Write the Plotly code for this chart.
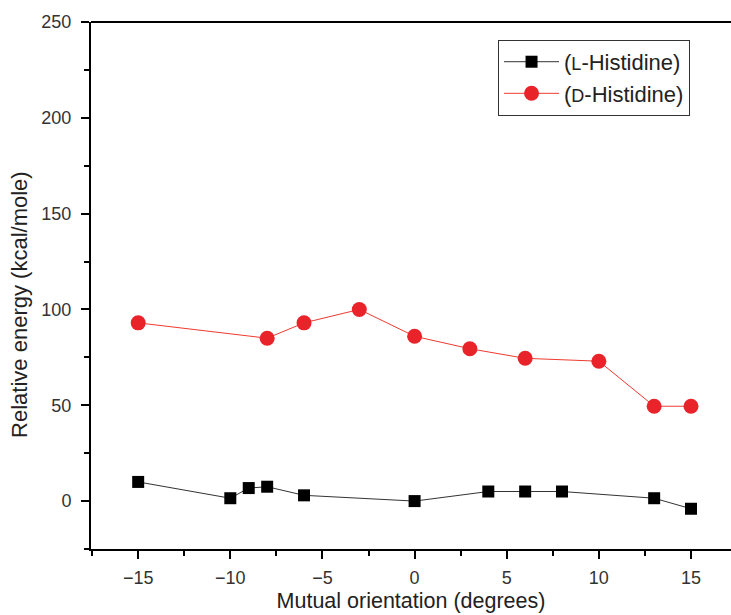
import plotly.graph_objects as go

l_x = [-15, -10, -9, -8, -6, 0, 4, 6, 8, 13, 15]
l_y = [10, 1.5, 6.8, 7.5, 3, 0, 5, 5, 5, 1.5, -4]
d_x = [-15, -8, -6, -3, 0, 3, 6, 10, 13, 15]
d_y = [93, 85, 93, 100, 86, 79.5, 74.5, 73, 49.5, 49.5]

x_ticks = [-15, -10, -5, 0, 5, 10, 15]
y_ticks = [0, 50, 100, 150, 200, 250]

FONT = "Liberation Sans, Arial, sans-serif"

fig = go.Figure()
fig.add_trace(go.Scatter(
    x=l_x, y=l_y, mode="lines+markers",
    name="(<span style='font-size:18px'>L</span>-Histidine)",
    line=dict(color="#333333", width=1),
    marker=dict(symbol="square", size=12, color="black"),
))
fig.add_trace(go.Scatter(
    x=d_x, y=d_y, mode="lines+markers",
    name="(<span style='font-size:18px'>D</span>-Histidine)",
    line=dict(color="#ee3b30", width=1),
    marker=dict(symbol="circle", size=15, color="#e8232a"),
))

fig.update_layout(
    width=731, height=615,
    margin=dict(l=91, r=0, t=22, b=66),
    paper_bgcolor="white", plot_bgcolor="white",
    font=dict(family=FONT, size=16, color="#222222"),
    showlegend=True,
    legend=dict(
        x=0.636, y=0.966, xanchor="left", yanchor="top",
        bordercolor="#333333", borderwidth=1, bgcolor="white",
        font=dict(size=22, family=FONT, color="#222222"),
        itemwidth=55, tracegroupgap=0,
    ),
    xaxis=dict(
        range=[-17.56, 17.17], tickvals=x_ticks, automargin=False,
        ticktext=["\u221215", "\u221210", "\u22125", "0", "5", "10", "15"],
        showline=True, linecolor="black", linewidth=2, mirror=False,
        ticks="outside", ticklen=8, tickwidth=2, tickcolor="black",
        minor=dict(dtick=2.5, tick0=0, ticks="outside", ticklen=5, tickwidth=2, tickcolor="black"),
        showgrid=False, zeroline=False, ticklabelstandoff=3,
        title=dict(text="Mutual orientation (degrees)", font=dict(size=21.5), standoff=6),
        tickfont=dict(size=18, color="#333333"),
    ),
    yaxis=dict(
        range=[-25, 250], tickvals=y_ticks, automargin=False,
        showline=True, linecolor="black", linewidth=2,
        ticks="outside", ticklen=8, tickwidth=2, tickcolor="black",
        minor=dict(dtick=25, tick0=0, ticks="outside", ticklen=5, tickwidth=2, tickcolor="black"),
        showgrid=False, zeroline=False, ticklabelstandoff=6,
        tickfont=dict(size=18, color="#333333"),
    ),
    shapes=[dict(type="line", xref="paper", yref="paper", x0=0, x1=1, y0=1, y1=1,
                 line=dict(color="black", width=2))],
    annotations=[dict(
        text="Relative energy (kcal/mole)", textangle=-90,
        xref="paper", yref="paper", x=-0.111, y=0.465,
        xanchor="center", yanchor="middle", showarrow=False,
        font=dict(size=22, family=FONT, color="#222222"),
    )],
)

fig.write_html(
    "out.html",
    config={"displayModeBar": False},
    post_script="document.body.style.margin='0';document.body.style.overflow='hidden';",
)
